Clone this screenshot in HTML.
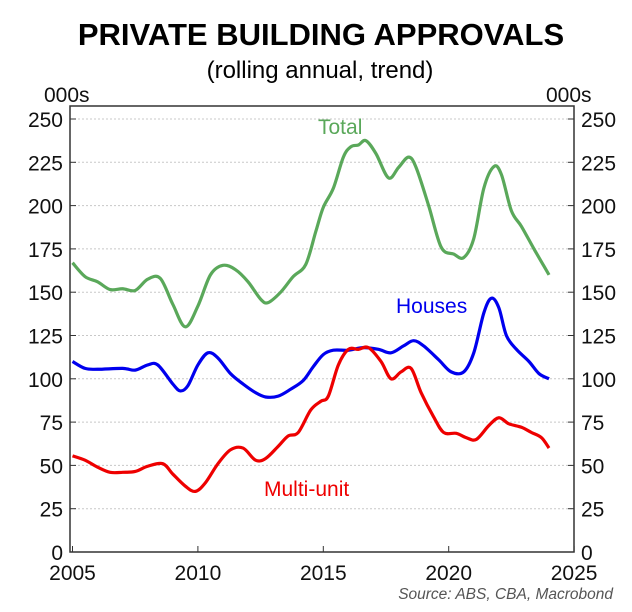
<!DOCTYPE html>
<html><head><meta charset="utf-8"><style>
body{margin:0;background:#fff;font-family:"Liberation Sans",Arial,sans-serif}
svg{display:block}
</style></head><body>
<svg id="c" width="632" height="612" viewBox="0 0 632 612">
<text x="321" y="45" text-anchor="middle" font-size="31" font-weight="bold" fill="#000">PRIVATE BUILDING APPROVALS</text>
<text x="320" y="78" text-anchor="middle" font-size="24" fill="#000">(rolling annual, trend)</text>
<text x="44" y="102" font-size="21" fill="#111">000s</text>
<text x="546" y="102" font-size="21" fill="#111">000s</text>
<g id="grid"></g><g id="axes"></g><g id="lines"></g>
<text x="318" y="134" font-size="21" fill="#5aa85a">Total</text>
<text x="396" y="313" font-size="21" fill="#0000ee">Houses</text>
<text x="264" y="496" font-size="21" fill="#ee0000">Multi-unit</text>
<text x="613" y="599" text-anchor="end" font-size="15.5" font-style="italic" fill="#555">Source: ABS, CBA, Macrobond</text>
</svg>
<script>
const yTicks=[0,25,50,75,100,125,150,175,200,225,250];
const xTicks=[2005,2010,2015,2020,2025];
const totalYears=[2005,2005.5,2006,2006.5,2007,2007.5,2008,2008.5,2009,2009.5,2010,2010.5,2011,2011.5,2012,2012.5,2012.8,2013.3,2013.8,2014.3,2014.7,2015,2015.4,2015.8,2016.1,2016.4,2016.7,2017.1,2017.6,2018,2018.4,2018.7,2019.2,2019.7,2020.2,2020.6,2021,2021.4,2021.8,2022.1,2022.5,2022.9,2023.4,2023.8,2024];
const totalVals=[167,159,156,151.5,152,151,157.5,158,143,130,142,160,165.5,163,156,146,144,150,159,166,185,199,210,228,234,235,237.5,230,216,222,228,222,200,176,172,170,181,210,222.5,218,197,188,175,165,160];
const housesYears=[2005,2005.5,2006,2007,2007.5,2008,2008.4,2009,2009.3,2009.6,2010,2010.4,2010.8,2011.3,2011.8,2012.3,2012.7,2013.2,2013.7,2014.2,2014.6,2015,2015.4,2016,2016.6,2017.2,2017.7,2018.2,2018.6,2019,2019.6,2020.1,2020.6,2021,2021.4,2021.7,2022,2022.3,2022.7,2023.2,2023.6,2024];
const housesVals=[110,106,105.5,106,105,108,108,97,93,96,108,115,112,103,97,92,89.5,90,94,99,107,114,116.5,116.5,118,117,115,119,122,119,111,104,104,115,138,146.5,141,125,117,110,103,100];
const multiYears=[2005,2005.5,2006,2006.5,2007,2007.5,2008,2008.6,2009,2009.5,2009.9,2010.3,2010.8,2011.3,2011.8,2012.3,2012.7,2013.2,2013.6,2014,2014.5,2014.9,2015.2,2015.6,2016,2016.4,2016.8,2017.3,2017.7,2018.1,2018.5,2018.9,2019.4,2019.8,2020.3,2020.7,2021.1,2021.6,2022,2022.4,2022.9,2023.3,2023.7,2024];
const multiVals=[55.5,53,49,46,46,46.5,49.5,51,45,38,35,40,51,59,60,53,54,61,67,69,82,87,90,108,117,117,118,110,100,104,106,92,78,69,68.5,66,65,73,77.5,74,72,69,66,60];

const NS="http://www.w3.org/2000/svg";
const L=70,R=574,T=106,B=552;
const xs=v=>72.5+(v-2005)*25.08;
const ys=v=>552-v*1.732;
function mk(tag,attrs,parent){const e=document.createElementNS(NS,tag);for(const k in attrs)e.setAttribute(k,attrs[k]);parent.appendChild(e);return e;}
const grid=document.getElementById('grid'),axes=document.getElementById('axes'),lines=document.getElementById('lines');
yTicks.forEach(t=>{
  if(t>0){const g=mk('line',{x1:L,x2:R,y1:ys(t),y2:ys(t),stroke:'#c8c8c8','stroke-dasharray':'2,2','stroke-width':1},grid);
  
  }
  mk('line',{x1:L,x2:L+6,y1:ys(t),y2:ys(t),stroke:'#333'},axes);
  mk('line',{x1:R-6,x2:R,y1:ys(t),y2:ys(t),stroke:'#333'},axes);
  const a=mk('text',{x:L-7,y:ys(t)+8,'text-anchor':'end','font-size':21,fill:'#111'},axes);a.textContent=t;
  
  
  const b=mk('text',{x:R+7,y:ys(t)+8,'font-size':21,fill:'#111'},axes);b.textContent=t;
  
  
});
xTicks.forEach(t=>{
  mk('line',{x1:xs(t),x2:xs(t),y1:B,y2:B-6,stroke:'#333'},axes);
  const a=mk('text',{x:xs(t),y:B+28,'text-anchor':'middle','font-size':21,fill:'#111'},axes);a.textContent=t;
  
  
});
const fr=mk('rect',{x:L,y:T,width:R-L,height:B-T,fill:'none',stroke:'#333','stroke-width':1.5},axes);


function path(xsA,vs){const p=xsA.map((x,i)=>[xs(x),ys(vs[i])]);let d='M'+p[0][0]+','+p[0][1];
  for(let i=0;i<p.length-1;i++){const p0=p[i-1]||p[i],p1=p[i],p2=p[i+1],p3=p[i+2]||p2;
  const c1=[p1[0]+(p2[0]-p0[0])/6,p1[1]+(p2[1]-p0[1])/6],c2=[p2[0]-(p3[0]-p1[0])/6,p2[1]-(p3[1]-p1[1])/6];
  d+=` C${c1[0]},${c1[1]} ${c2[0]},${c2[1]} ${p2[0]},${p2[1]}`;}return d;}
const s1=mk('path',{d:path(totalYears,totalVals),fill:'none',stroke:'#5aa85a','stroke-width':3.2,'stroke-linejoin':'round'},lines);


const s2=mk('path',{d:path(housesYears,housesVals),fill:'none',stroke:'#0000ee','stroke-width':3.2,'stroke-linejoin':'round'},lines);


const s3=mk('path',{d:path(multiYears,multiVals),fill:'none',stroke:'#ee0000','stroke-width':3.2,'stroke-linejoin':'round'},lines);


</script>
</body></html>
